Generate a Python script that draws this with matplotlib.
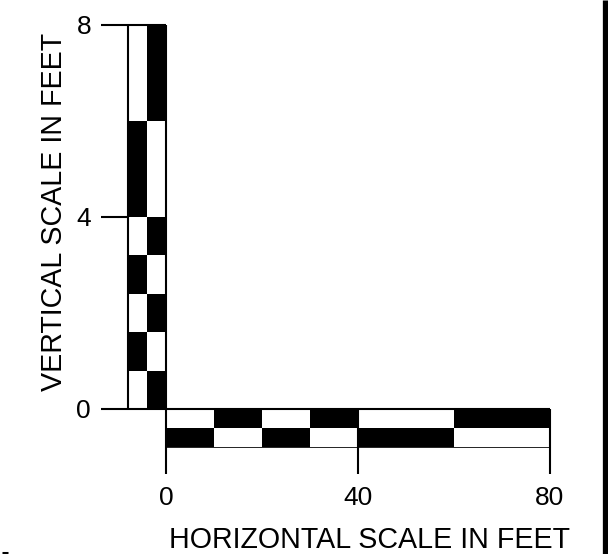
import matplotlib
matplotlib.use("Agg")
import matplotlib.pyplot as plt
from matplotlib.patches import Rectangle

plt.rcParams['font.family'] = ['Liberation Sans', 'DejaVu Sans']

# ---- data ----
v_edges = [0, 0.8, 1.6, 2.4, 3.2, 4.0, 6.0, 8.0]      # vertical scale segment edges (ft)
h_edges = [0, 10, 20, 30, 40, 60, 80]                  # horizontal scale segment edges (ft)
v_ticks = [0, 4, 8]
v_tick_labels = ["0", "4", "8"]
h_ticks = [0, 40, 80]
h_tick_labels = ["0", "40", "80"]
x_title = "HORIZONTAL SCALE IN FEET"
y_title = "VERTICAL SCALE IN FEET"

# ---- layout ----
W, H = 608, 554
fig = plt.figure(figsize=(W / 100, H / 100), dpi=100)
ax = fig.add_axes([0, 0, 1, 1])
ax.set_axis_off()
# map: x px = 166 + 4.8*X ; y px = 409 - 48*Y
ax.set_xlim((0 - 166) / 4.8, (W - 166) / 4.8)
ax.set_ylim((409 - H) / 48, (409 - 0) / 48)

bar_w = 8.0      # width of vertical bar in horizontal feet units (two columns)
bar_h = 0.8      # height of horizontal bar in vertical feet units (two rows)
lw = 1.5
tick_left = -13.5
tick_down = -1.35

# vertical checkered bar
for i in range(len(v_edges) - 1):
    y0, y1 = v_edges[i], v_edges[i + 1]
    left_black = (i % 2 == 1)
    ax.add_patch(Rectangle((-bar_w, y0), bar_w / 2, y1 - y0,
                           facecolor='black' if left_black else 'white', edgecolor='none'))
    ax.add_patch(Rectangle((-bar_w / 2, y0), bar_w / 2, y1 - y0,
                           facecolor='white' if left_black else 'black', edgecolor='none'))

# horizontal checkered bar
for i in range(len(h_edges) - 1):
    x0, x1 = h_edges[i], h_edges[i + 1]
    top_black = (i % 2 == 1)
    ax.add_patch(Rectangle((x0, -bar_h / 2), x1 - x0, bar_h / 2,
                           facecolor='black' if top_black else 'white', edgecolor='none'))
    ax.add_patch(Rectangle((x0, -bar_h), x1 - x0, bar_h / 2,
                           facecolor='white' if top_black else 'black', edgecolor='none'))

# outline / tick lines
ax.plot([-bar_w, -bar_w], [0, v_ticks[-1]], color='black', lw=lw, solid_capstyle='butt')
ax.plot([0, 0], [tick_down, v_ticks[-1]], color='black', lw=lw, solid_capstyle='butt')
for t in v_ticks:
    x_end = h_edges[-1] if t == 0 else (0 if t == v_ticks[-1] else -bar_w)
    ax.plot([tick_left, x_end], [t, t], color='black', lw=lw, solid_capstyle='butt')
for t in h_ticks[1:]:
    ax.plot([t, t], [tick_down, 0], color='black', lw=lw, solid_capstyle='butt')
ax.plot([0, h_edges[-1]], [-bar_h, -bar_h], color='black', lw=0.6)

# tick labels
for t, lab in zip(v_ticks, v_tick_labels):
    ax.text(-15.6, t, lab, ha='right', va='center_baseline', fontsize=19)
for t, lab in zip(h_ticks, h_tick_labels):
    ax.text(t, -1.85, lab, ha='center', va='center', fontsize=19)

ax.text(42.3, -2.72, x_title, ha='center', va='center', fontsize=20.6)
ax.text(-23.3, 4.1, y_title, ha='center', va='center', rotation=90, fontsize=20.6)

# border artifacts of the reference image
ax.plot([(605.5 - 166) / 4.8] * 2, [(409 - H) / 48, 409 / 48], color='black', lw=3.8,
        solid_capstyle='butt')
ax.plot([(2 - 166) / 4.8, (8 - 166) / 4.8], [(409 - 552.5) / 48] * 2, color='black', lw=2.2,
        solid_capstyle='butt')

fig.savefig("out.png", dpi=100)
